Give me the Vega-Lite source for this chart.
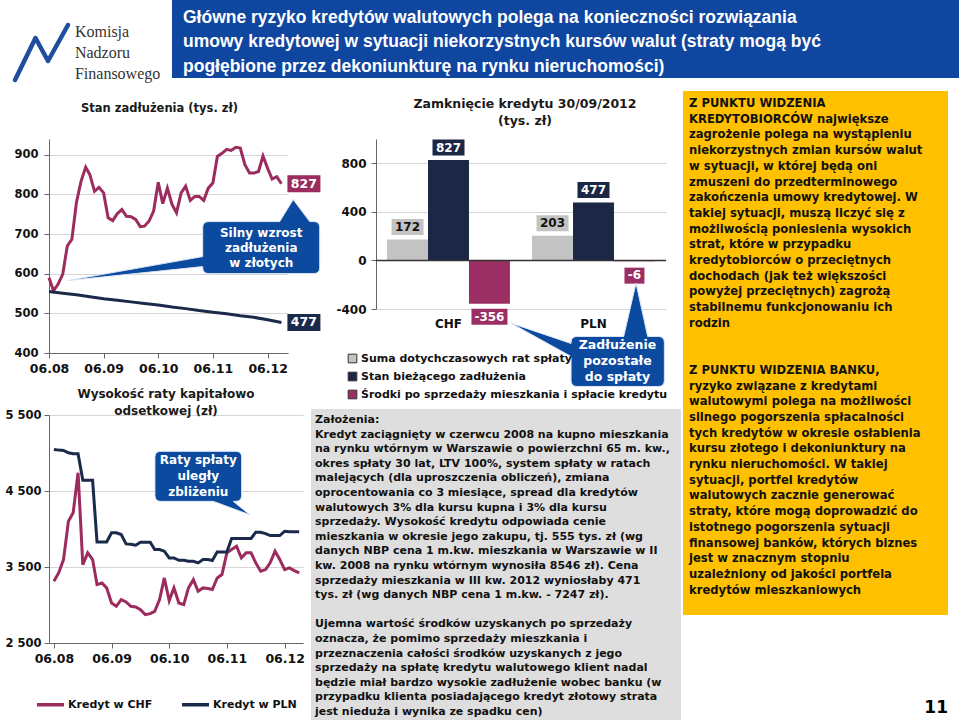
{
  "$schema": "https://vega.github.io/schema/vega-lite/v6.json",
  "padding": 0,
  "background": "white",
  "config": {
    "view": {"stroke": null},
    "font": "DejaVu Sans",
    "title": {"color": "#1a1a1a", "font": "DejaVu Sans"},
    "axis": {"labelFont": "DejaVu Sans", "labelColor": "#111", "labelFontWeight": "bold", "domainColor": "#666", "tickColor": "#666", "gridColor": "#D6D6D6"}
  },
  "datasets": {
    "debt": [
      {"date":"2008-06-01","series":"Kredyt w CHF","value":590},{"date":"2008-07-01","series":"Kredyt w CHF","value":557},{"date":"2008-08-01","series":"Kredyt w CHF","value":574},{"date":"2008-09-01","series":"Kredyt w CHF","value":599},{"date":"2008-10-01","series":"Kredyt w CHF","value":670},{"date":"2008-11-01","series":"Kredyt w CHF","value":687},{"date":"2008-12-01","series":"Kredyt w CHF","value":779},
      {"date":"2009-01-01","series":"Kredyt w CHF","value":833},{"date":"2009-02-01","series":"Kredyt w CHF","value":869},{"date":"2009-03-01","series":"Kredyt w CHF","value":850},{"date":"2009-04-01","series":"Kredyt w CHF","value":808},{"date":"2009-05-01","series":"Kredyt w CHF","value":818},{"date":"2009-06-01","series":"Kredyt w CHF","value":804},{"date":"2009-07-01","series":"Kredyt w CHF","value":741},{"date":"2009-08-01","series":"Kredyt w CHF","value":734},{"date":"2009-09-01","series":"Kredyt w CHF","value":752},{"date":"2009-10-01","series":"Kredyt w CHF","value":762},{"date":"2009-11-01","series":"Kredyt w CHF","value":745},{"date":"2009-12-01","series":"Kredyt w CHF","value":744},
      {"date":"2010-01-01","series":"Kredyt w CHF","value":737},{"date":"2010-02-01","series":"Kredyt w CHF","value":719},{"date":"2010-03-01","series":"Kredyt w CHF","value":720},{"date":"2010-04-01","series":"Kredyt w CHF","value":733},{"date":"2010-05-01","series":"Kredyt w CHF","value":758},{"date":"2010-06-01","series":"Kredyt w CHF","value":831},{"date":"2010-07-01","series":"Kredyt w CHF","value":777},{"date":"2010-08-01","series":"Kredyt w CHF","value":816},{"date":"2010-09-01","series":"Kredyt w CHF","value":775},{"date":"2010-10-01","series":"Kredyt w CHF","value":754},{"date":"2010-11-01","series":"Kredyt w CHF","value":804},{"date":"2010-12-01","series":"Kredyt w CHF","value":821},
      {"date":"2011-01-01","series":"Kredyt w CHF","value":785},{"date":"2011-02-01","series":"Kredyt w CHF","value":795},{"date":"2011-03-01","series":"Kredyt w CHF","value":795},{"date":"2011-04-01","series":"Kredyt w CHF","value":785},{"date":"2011-05-01","series":"Kredyt w CHF","value":816},{"date":"2011-06-01","series":"Kredyt w CHF","value":829},{"date":"2011-07-01","series":"Kredyt w CHF","value":896},{"date":"2011-08-01","series":"Kredyt w CHF","value":904},{"date":"2011-09-01","series":"Kredyt w CHF","value":914},{"date":"2011-10-01","series":"Kredyt w CHF","value":911},{"date":"2011-11-01","series":"Kredyt w CHF","value":919},{"date":"2011-12-01","series":"Kredyt w CHF","value":917},
      {"date":"2012-01-01","series":"Kredyt w CHF","value":875},{"date":"2012-02-01","series":"Kredyt w CHF","value":854},{"date":"2012-03-01","series":"Kredyt w CHF","value":854},{"date":"2012-04-01","series":"Kredyt w CHF","value":858},{"date":"2012-05-01","series":"Kredyt w CHF","value":897},{"date":"2012-06-01","series":"Kredyt w CHF","value":866},{"date":"2012-07-01","series":"Kredyt w CHF","value":839},{"date":"2012-08-01","series":"Kredyt w CHF","value":845},{"date":"2012-09-01","series":"Kredyt w CHF","value":827},
      {"date":"2008-06-01","series":"Kredyt w PLN","value":555},{"date":"2008-09-01","series":"Kredyt w PLN","value":551},{"date":"2008-12-01","series":"Kredyt w PLN","value":547},{"date":"2009-03-01","series":"Kredyt w PLN","value":542},{"date":"2009-06-01","series":"Kredyt w PLN","value":537},{"date":"2009-09-01","series":"Kredyt w PLN","value":533},{"date":"2009-12-01","series":"Kredyt w PLN","value":529},{"date":"2010-03-01","series":"Kredyt w PLN","value":525},{"date":"2010-06-01","series":"Kredyt w PLN","value":521},{"date":"2010-09-01","series":"Kredyt w PLN","value":516},{"date":"2010-12-01","series":"Kredyt w PLN","value":512},{"date":"2011-03-01","series":"Kredyt w PLN","value":507},{"date":"2011-06-01","series":"Kredyt w PLN","value":503},{"date":"2011-09-01","series":"Kredyt w PLN","value":499},{"date":"2011-12-01","series":"Kredyt w PLN","value":494},{"date":"2012-03-01","series":"Kredyt w PLN","value":490},{"date":"2012-06-01","series":"Kredyt w PLN","value":484},{"date":"2012-09-01","series":"Kredyt w PLN","value":477}
    ],
    "rate": [
      {"date":"2008-06-01","series":"Kredyt w CHF","value":3312},{"date":"2008-07-01","series":"Kredyt w CHF","value":3422},{"date":"2008-08-01","series":"Kredyt w CHF","value":3598},{"date":"2008-09-01","series":"Kredyt w CHF","value":4103},{"date":"2008-10-01","series":"Kredyt w CHF","value":4213},{"date":"2008-11-01","series":"Kredyt w CHF","value":4740},{"date":"2008-12-01","series":"Kredyt w CHF","value":3532},
      {"date":"2009-01-01","series":"Kredyt w CHF","value":3686},{"date":"2009-02-01","series":"Kredyt w CHF","value":3598},{"date":"2009-03-01","series":"Kredyt w CHF","value":3269},{"date":"2009-04-01","series":"Kredyt w CHF","value":3290},{"date":"2009-05-01","series":"Kredyt w CHF","value":3225},{"date":"2009-06-01","series":"Kredyt w CHF","value":3027},{"date":"2009-07-01","series":"Kredyt w CHF","value":2983},{"date":"2009-08-01","series":"Kredyt w CHF","value":3071},{"date":"2009-09-01","series":"Kredyt w CHF","value":3040},{"date":"2009-10-01","series":"Kredyt w CHF","value":2983},{"date":"2009-11-01","series":"Kredyt w CHF","value":2974},{"date":"2009-12-01","series":"Kredyt w CHF","value":2939},
      {"date":"2010-01-01","series":"Kredyt w CHF","value":2873},{"date":"2010-02-01","series":"Kredyt w CHF","value":2886},{"date":"2010-03-01","series":"Kredyt w CHF","value":2917},{"date":"2010-04-01","series":"Kredyt w CHF","value":3071},{"date":"2010-05-01","series":"Kredyt w CHF","value":3356},{"date":"2010-06-01","series":"Kredyt w CHF","value":3058},{"date":"2010-07-01","series":"Kredyt w CHF","value":3225},{"date":"2010-08-01","series":"Kredyt w CHF","value":3027},{"date":"2010-09-01","series":"Kredyt w CHF","value":3005},{"date":"2010-10-01","series":"Kredyt w CHF","value":3225},{"date":"2010-11-01","series":"Kredyt w CHF","value":3334},{"date":"2010-12-01","series":"Kredyt w CHF","value":3181},
      {"date":"2011-01-01","series":"Kredyt w CHF","value":3225},{"date":"2011-02-01","series":"Kredyt w CHF","value":3216},{"date":"2011-03-01","series":"Kredyt w CHF","value":3203},{"date":"2011-04-01","series":"Kredyt w CHF","value":3356},{"date":"2011-05-01","series":"Kredyt w CHF","value":3400},{"date":"2011-06-01","series":"Kredyt w CHF","value":3686},{"date":"2011-07-01","series":"Kredyt w CHF","value":3730},{"date":"2011-08-01","series":"Kredyt w CHF","value":3774},{"date":"2011-09-01","series":"Kredyt w CHF","value":3620},{"date":"2011-10-01","series":"Kredyt w CHF","value":3686},{"date":"2011-11-01","series":"Kredyt w CHF","value":3686},{"date":"2011-12-01","series":"Kredyt w CHF","value":3554},
      {"date":"2012-01-01","series":"Kredyt w CHF","value":3444},{"date":"2012-02-01","series":"Kredyt w CHF","value":3466},{"date":"2012-03-01","series":"Kredyt w CHF","value":3554},{"date":"2012-04-01","series":"Kredyt w CHF","value":3708},{"date":"2012-05-01","series":"Kredyt w CHF","value":3598},{"date":"2012-06-01","series":"Kredyt w CHF","value":3466},{"date":"2012-07-01","series":"Kredyt w CHF","value":3488},{"date":"2012-08-01","series":"Kredyt w CHF","value":3453},{"date":"2012-09-01","series":"Kredyt w CHF","value":3422},
      {"date":"2008-06-01","series":"Kredyt w PLN","value":5047},{"date":"2008-07-01","series":"Kredyt w PLN","value":5038},{"date":"2008-08-01","series":"Kredyt w PLN","value":5034},{"date":"2008-09-01","series":"Kredyt w PLN","value":5003},{"date":"2008-10-01","series":"Kredyt w PLN","value":4990},{"date":"2008-11-01","series":"Kredyt w PLN","value":4990},{"date":"2008-12-01","series":"Kredyt w PLN","value":4640},
      {"date":"2009-01-01","series":"Kredyt w PLN","value":4640},{"date":"2009-02-01","series":"Kredyt w PLN","value":4640},{"date":"2009-03-01","series":"Kredyt w PLN","value":3830},{"date":"2009-04-01","series":"Kredyt w PLN","value":3830},{"date":"2009-05-01","series":"Kredyt w PLN","value":3830},{"date":"2009-06-01","series":"Kredyt w PLN","value":3950},{"date":"2009-07-01","series":"Kredyt w PLN","value":3950},{"date":"2009-08-01","series":"Kredyt w PLN","value":3927},{"date":"2009-09-01","series":"Kredyt w PLN","value":3804},{"date":"2009-10-01","series":"Kredyt w PLN","value":3800},{"date":"2009-11-01","series":"Kredyt w PLN","value":3787},{"date":"2009-12-01","series":"Kredyt w PLN","value":3826},
      {"date":"2010-01-01","series":"Kredyt w PLN","value":3826},{"date":"2010-02-01","series":"Kredyt w PLN","value":3826},{"date":"2010-03-01","series":"Kredyt w PLN","value":3730},{"date":"2010-04-01","series":"Kredyt w PLN","value":3730},{"date":"2010-05-01","series":"Kredyt w PLN","value":3708},{"date":"2010-06-01","series":"Kredyt w PLN","value":3620},{"date":"2010-07-01","series":"Kredyt w PLN","value":3620},{"date":"2010-08-01","series":"Kredyt w PLN","value":3589},{"date":"2010-09-01","series":"Kredyt w PLN","value":3589},{"date":"2010-10-01","series":"Kredyt w PLN","value":3576},{"date":"2010-11-01","series":"Kredyt w PLN","value":3576},{"date":"2010-12-01","series":"Kredyt w PLN","value":3554},
      {"date":"2011-01-01","series":"Kredyt w PLN","value":3598},{"date":"2011-02-01","series":"Kredyt w PLN","value":3598},{"date":"2011-03-01","series":"Kredyt w PLN","value":3585},{"date":"2011-04-01","series":"Kredyt w PLN","value":3699},{"date":"2011-05-01","series":"Kredyt w PLN","value":3699},{"date":"2011-06-01","series":"Kredyt w PLN","value":3699},{"date":"2011-07-01","series":"Kredyt w PLN","value":3875},{"date":"2011-08-01","series":"Kredyt w PLN","value":3875},{"date":"2011-09-01","series":"Kredyt w PLN","value":3875},{"date":"2011-10-01","series":"Kredyt w PLN","value":3875},{"date":"2011-11-01","series":"Kredyt w PLN","value":3875},{"date":"2011-12-01","series":"Kredyt w PLN","value":3958},
      {"date":"2012-01-01","series":"Kredyt w PLN","value":3958},{"date":"2012-02-01","series":"Kredyt w PLN","value":3940},{"date":"2012-03-01","series":"Kredyt w PLN","value":3914},{"date":"2012-04-01","series":"Kredyt w PLN","value":3914},{"date":"2012-05-01","series":"Kredyt w PLN","value":3914},{"date":"2012-06-01","series":"Kredyt w PLN","value":3971},{"date":"2012-07-01","series":"Kredyt w PLN","value":3965},{"date":"2012-08-01","series":"Kredyt w PLN","value":3965},{"date":"2012-09-01","series":"Kredyt w PLN","value":3965}
    ]
  },
  "spacing": 8,
  "resolve": {"scale": {"color": "independent"}, "legend": {"color": "independent"}},
  "vconcat": [
    {
      "spacing": 0,
      "hconcat": [
        {
          "width": 123, "height": 78,
          "layer": [
            {
              "data": {"values": [{"name": "KNF"}]},
              "mark": {"type": "point", "shape": "M-1.91,0.82L-1.5,-0.02L-1.25,0.44L-0.85,-0.28", "size": 10000, "filled": false, "stroke": "#1F4E9E", "strokeWidth": 4.5, "opacity": 1, "strokeCap": "round", "strokeJoin": "round"},
              "encoding": {}
            },
            {
              "data": {"values": [{"line": 0, "text": "Komisja"}, {"line": 1, "text": "Nadzoru"}, {"line": 2, "text": "Finansowego"}]},
              "mark": {"type": "text", "align": "left", "baseline": "middle", "font": "Liberation Serif", "fontSize": 16, "color": "#333333"},
              "encoding": {
                "x": {"datum": 0.211, "type": "quantitative", "scale": {"domain": [0, 1], "nice": false, "zero": false}, "axis": null},
                "y": {"field": "line", "type": "quantitative", "scale": {"domain": [-1.524, 2.19], "reverse": true, "nice": false, "zero": false}, "axis": null},
                "text": {"field": "text"}
              }
            }
          ]
        },
        {
          "width": 787, "height": 78,
          "view": {"fill": "#0F46A0", "stroke": null},
          "data": {"values": [
            {"line": 0, "text": "Główne ryzyko kredytów walutowych polega na konieczności rozwiązania"},
            {"line": 1, "text": "umowy kredytowej w sytuacji niekorzystnych kursów walut (straty mogą być"},
            {"line": 2, "text": "pogłębione przez dekoniunkturę na rynku nieruchomości)"}
          ]},
          "mark": {"type": "text", "align": "left", "baseline": "middle", "font": "Liberation Sans", "fontWeight": "bold", "fontSize": 17.5, "color": "white", "dx": 11},
          "encoding": {
            "x": {"datum": 0, "type": "quantitative", "scale": {"domain": [0, 1], "nice": false, "zero": false}, "axis": null},
            "y": {"field": "line", "type": "quantitative", "scale": {"domain": [-0.735, 2.45], "reverse": true, "nice": false, "zero": false}, "axis": null},
            "text": {"field": "text"}
          }
        }
      ]
    },
    {
      "spacing": 2,
      "resolve": {"scale": {"color": "independent"}, "legend": {"color": "independent"}},
      "hconcat": [
        {
          "spacing": -11,
          "resolve": {"scale": {"color": "independent"}, "legend": {"color": "independent"}},
          "hconcat": [
            {
              "spacing": 13,
              "resolve": {"scale": {"color": "independent"}, "legend": {"color": "independent"}},
              "vconcat": [
                {
                  "width": 239, "height": 214,
                  "title": {"text": " ", "fontSize": 7, "subtitle": "Stan zadłużenia  (tys. zł)", "subtitleFontSize": 11.5, "subtitleFontWeight": "bold", "subtitleColor": "#1a1a1a", "subtitlePadding": 0, "offset": 25, "dx": -9, "anchor": "middle"},
                  "layer": [
                    {
                      "data": {"name": "debt"},
                      "mark": {"type": "line", "strokeWidth": 3},
                      "encoding": {
                        "x": {"field": "date", "type": "temporal",
                          "scale": {"type": "utc", "domain": [{"year": 2008, "month": 6, "date": 1, "utc": true}, {"year": 2012, "month": 10, "date": 15, "utc": true}], "nice": false},
                          "axis": {"values": [{"year": 2008, "month": 6, "date": 1, "utc": true}, {"year": 2009, "month": 6, "date": 1, "utc": true}, {"year": 2010, "month": 6, "date": 1, "utc": true}, {"year": 2011, "month": 6, "date": 1, "utc": true}, {"year": 2012, "month": 6, "date": 1, "utc": true}], "labelExpr": "utcFormat(datum.value, '%m.%y')", "labelFlush": false, "labelFontSize": 12.5, "tickSize": 5, "labelPadding": 4, "grid": false, "title": null}},
                        "y": {"field": "value", "type": "quantitative", "scale": {"domain": [400, 940], "nice": false, "zero": false},
                          "axis": {"values": [400, 500, 600, 700, 800, 900], "grid": true, "labelFontSize": 11.5, "tickSize": 5, "labelPadding": 6, "title": null, "minExtent": 49, "maxExtent": 49}},
                        "color": {"field": "series", "type": "nominal", "scale": {"domain": ["Kredyt w CHF", "Kredyt w PLN"], "range": ["#9C2B5E", "#1B2A4A"]}, "legend": null}
                      }
                    },
                    {
                      "data": {"values": [{"date": "2012-09-01", "series": "Kredyt w CHF", "value": 827}, {"date": "2012-09-01", "series": "Kredyt w PLN", "value": 477}]},
                      "layer": [
                        {
                          "mark": {"type": "point", "shape": "M0.12,-0.17L0.78,-0.17L0.78,0.17L0.12,0.17Z", "size": 10000, "filled": true, "opacity": 1, "strokeWidth": 0},
                          "encoding": {
                            "x": {"field": "date", "type": "temporal"},
                            "y": {"field": "value", "type": "quantitative"},
                            "color": {"field": "series", "type": "nominal", "legend": null}
                          }
                        },
                        {
                          "mark": {"type": "text", "dx": 22.5, "fontSize": 12.5, "fontWeight": "bold", "color": "white", "baseline": "middle"},
                          "encoding": {
                            "x": {"field": "date", "type": "temporal"},
                            "y": {"field": "value", "type": "quantitative"},
                            "text": {"field": "value", "type": "nominal"}
                          }
                        }
                      ]
                    },
                    {
                      "data": {"values": [{"date": "2012-04-19", "value": 666, "text": "Silny wzrost\nzadłużenia\nw złotych"}]},
                      "layer": [
                        {
                          "mark": {"type": "point", "shape": "M-1.05,-0.52L0.37,-0.52L0.64,-0.96L0.97,-0.52L1.05,-0.52Q1.17,-0.52 1.17,-0.4L1.17,0.4Q1.17,0.52 1.05,0.52L-1.05,0.52Q-1.17,0.52 -1.17,0.4L-1.17,0.38L-3.87,0.66L-1.17,0.18L-1.17,-0.4Q-1.17,-0.52 -1.05,-0.52Z", "size": 10000, "filled": true, "fill": "#0B4A9E", "stroke": "#DCE6F5", "strokeWidth": 1, "opacity": 1},
                          "encoding": {
                            "x": {"field": "date", "type": "temporal"},
                            "y": {"field": "value", "type": "quantitative"}
                          }
                        },
                        {
                          "mark": {"type": "text", "lineBreak": "\n", "lineHeight": 15, "dy": -15, "fontSize": 12, "fontWeight": "bold", "color": "white", "baseline": "middle", "align": "center"},
                          "encoding": {
                            "x": {"field": "date", "type": "temporal"},
                            "y": {"field": "value", "type": "quantitative"},
                            "text": {"field": "text"}
                          }
                        }
                      ]
                    }
                  ]
                },
                {
                  "width": 254, "height": 228,
                  "title": {"text": ["Wysokość  raty kapitałowo", "odsetkowej  (zł)"], "fontSize": 12, "fontWeight": "bold", "lineHeight": 17, "offset": -9, "dx": -10, "anchor": "middle"},
                  "layer": [
                    {
                      "data": {"name": "rate"},
                      "mark": {"type": "line", "strokeWidth": 3},
                      "encoding": {
                        "x": {"field": "date", "type": "temporal",
                          "scale": {"type": "utc", "domain": [{"year": 2008, "month": 5, "date": 1, "utc": true}, {"year": 2012, "month": 9, "date": 25, "utc": true}], "nice": false},
                          "axis": {"values": [{"year": 2008, "month": 6, "date": 1, "utc": true}, {"year": 2009, "month": 6, "date": 1, "utc": true}, {"year": 2010, "month": 6, "date": 1, "utc": true}, {"year": 2011, "month": 6, "date": 1, "utc": true}, {"year": 2012, "month": 6, "date": 1, "utc": true}], "labelExpr": "utcFormat(datum.value, '%m.%y')", "labelFlush": false, "labelFontSize": 12.5, "tickSize": 5, "labelPadding": 4, "grid": false, "title": null}},
                        "y": {"field": "value", "type": "quantitative", "scale": {"domain": [2500, 5500], "nice": false, "zero": false},
                          "axis": {"values": [2500, 3500, 4500, 5500], "labelExpr": "replace(format(datum.value, ','), ',', ' ')", "grid": true, "labelFontSize": 11.5, "tickSize": 5, "labelPadding": 3, "title": null, "minExtent": 49, "maxExtent": 49}},
                        "color": {"field": "series", "type": "nominal", "scale": {"domain": ["Kredyt w CHF", "Kredyt w PLN"], "range": ["#9C2B5E", "#1B2A4A"]},
                          "legend": {"orient": "none", "legendX": -14, "legendY": 274, "direction": "horizontal", "title": null, "symbolType": "stroke", "symbolSize": 729, "symbolStrokeWidth": 3.5, "labelFontSize": 11, "labelFontWeight": "bold", "labelColor": "#111", "labelOffset": 2, "columnPadding": 22}}
                      }
                    },
                    {
                      "data": {"values": [{"date": "2010-12-02", "value": 4693, "text": "Raty spłaty\nuległy\nzbliżeniu"}]},
                      "layer": [
                        {
                          "mark": {"type": "point", "shape": "M-0.75,-0.5L0.75,-0.5Q0.867,-0.5 0.867,-0.38L0.867,0.38Q0.867,0.5 0.75,0.5L0.7,0.5L1.03,0.77L0.3,0.5L-0.75,0.5Q-0.867,0.5 -0.867,0.38L-0.867,-0.38Q-0.867,-0.5 -0.75,-0.5Z", "size": 10000, "filled": true, "fill": "#0B4A9E", "stroke": "#DCE6F5", "strokeWidth": 1, "opacity": 1},
                          "encoding": {
                            "x": {"field": "date", "type": "temporal"},
                            "y": {"field": "value", "type": "quantitative"}
                          }
                        },
                        {
                          "mark": {"type": "text", "lineBreak": "\n", "lineHeight": 16, "dy": -16, "fontSize": 12, "fontWeight": "bold", "color": "white", "baseline": "middle", "align": "center"},
                          "encoding": {
                            "x": {"field": "date", "type": "temporal"},
                            "y": {"field": "value", "type": "quantitative"},
                            "text": {"field": "text"}
                          }
                        }
                      ]
                    }
                  ]
                }
              ]
            },
            {
              "spacing": 8,
              "resolve": {"scale": {"color": "independent"}, "legend": {"color": "independent"}},
              "vconcat": [
                {
                  "width": 290, "height": 170,
                  "title": {"text": " ", "fontSize": 6, "subtitle": ["Zamknięcie  kredytu 30/09/2012", "(tys. zł)"], "subtitleFontSize": 12.5, "subtitleFontWeight": "bold", "subtitleColor": "#1a1a1a", "subtitleLineHeight": 16.5, "subtitlePadding": 0, "offset": 12, "dx": 4, "anchor": "middle"},
                  "data": {"values": [
                    {"cur": "CHF", "series": "Suma dotychczasowych rat spłaty", "value": 172},
                    {"cur": "CHF", "series": "Stan bieżącego zadłużenia", "value": 827},
                    {"cur": "CHF", "series": "Środki po sprzedaży mieszkania i spłacie kredytu", "value": -356},
                    {"cur": "PLN", "series": "Suma dotychczasowych rat spłaty", "value": 203},
                    {"cur": "PLN", "series": "Stan bieżącego zadłużenia", "value": 477},
                    {"cur": "PLN", "series": "Środki po sprzedaży mieszkania i spłacie kredytu", "value": -6}
                  ]},
                  "layer": [
                    {
                      "mark": {"type": "bar"},
                      "encoding": {
                        "x": {"field": "cur", "type": "nominal", "scale": {"domain": ["CHF", "PLN"], "paddingInner": 0, "paddingOuter": 0},
                          "axis": {"title": null, "domain": false, "ticks": false, "labelAngle": 0, "labelFontSize": 12, "labelPadding": 9}},
                        "xOffset": {"field": "series", "type": "nominal", "scale": {"domain": ["Suma dotychczasowych rat spłaty", "Stan bieżącego zadłużenia", "Środki po sprzedaży mieszkania i spłacie kredytu"], "paddingInner": 0, "paddingOuter": 0.27}},
                        "y": {"field": "value", "type": "quantitative", "scale": {"domain": [-400, 1000], "nice": false, "zero": false},
                          "axis": {"values": [-400, 0, 400, 800], "labelExpr": "replace(datum.label, '−', '-')", "grid": true, "title": null, "labelFontSize": 12, "tickSize": 5, "labelPadding": 5, "minExtent": 53, "maxExtent": 53}},
                        "color": {"field": "series", "type": "nominal",
                          "scale": {"domain": ["Suma dotychczasowych rat spłaty", "Stan bieżącego zadłużenia", "Środki po sprzedaży mieszkania i spłacie kredytu"], "range": ["#C3C3C3", "#1B2745", "#9B2F64"]},
                          "legend": {"orient": "none", "legendX": -29, "legendY": 214, "direction": "vertical", "title": null, "symbolType": "square", "symbolSize": 75, "symbolStrokeColor": "#333", "symbolStrokeWidth": 1, "labelFontSize": 11, "labelFontWeight": "bold", "labelColor": "#111", "labelLimit": 400, "rowPadding": 5, "labelOffset": 3}}
                      }
                    },
                    {
                      "data": {"values": [{"level": 0}]},
                      "mark": {"type": "rule", "color": "#333", "strokeWidth": 1.5},
                      "encoding": {"y": {"field": "level", "type": "quantitative"}}
                    },
                    {
                      "mark": {"type": "point", "size": 10000, "filled": true, "opacity": 1, "strokeWidth": 0},
                      "encoding": {
                        "x": {"field": "cur", "type": "nominal"},
                        "xOffset": {"field": "series", "type": "nominal"},
                        "y": {"field": "value", "type": "quantitative"},
                        "color": {"field": "series", "type": "nominal"},
                        "shape": {"condition": [{"test": "datum.value < -100", "value": "M-0.36,0.1L0.36,0.1L0.36,0.42L-0.36,0.42Z"}, {"test": "datum.value < 0", "value": "M-0.2,0.13L0.2,0.13L0.2,0.45L-0.2,0.45Z"}], "value": "M-0.32,-0.41L0.32,-0.41L0.32,-0.09L-0.32,-0.09Z"}
                      }
                    },
                    {
                      "transform": [{"filter": "datum.value >= 0"}],
                      "mark": {"type": "text", "dy": -12.5, "fontSize": 12, "fontWeight": "bold", "baseline": "middle"},
                      "encoding": {
                        "x": {"field": "cur", "type": "nominal"},
                        "xOffset": {"field": "series", "type": "nominal"},
                        "y": {"field": "value", "type": "quantitative"},
                        "text": {"field": "value", "type": "nominal"},
                        "color": {"condition": {"test": "datum.series === 'Suma dotychczasowych rat spłaty'", "value": "#111111"}, "value": "white"}
                      }
                    },
                    {
                      "transform": [{"filter": "datum.value < 0"}],
                      "mark": {"type": "text", "dy": 13.8, "fontSize": 12, "fontWeight": "bold", "baseline": "middle", "color": "white"},
                      "encoding": {
                        "x": {"field": "cur", "type": "nominal"},
                        "xOffset": {"field": "series", "type": "nominal"},
                        "y": {"field": "value", "type": "quantitative"},
                        "text": {"field": "value", "type": "nominal"}
                      }
                    },
                    {
                      "data": {"values": [{"cur": "PLN", "value": -832, "text": "Zadłużenie\npozostałe\ndo spłaty"}]},
                      "layer": [
                        {
                          "mark": {"type": "point", "shape": "M-0.326,-0.5L0.604,-0.5L0.85,-1.566L1.084,-0.5L1.294,-0.5Q1.417,-0.5 1.417,-0.38L1.417,0.38Q1.417,0.5 1.294,0.5L-0.326,0.5Q-0.449,0.5 -0.449,0.38L-0.449,-0.1L-1.65,-0.766L-0.449,-0.36L-0.449,-0.38Q-0.449,-0.5 -0.326,-0.5Z", "size": 10000, "filled": true, "fill": "#0B4A9E", "stroke": "#DCE6F5", "strokeWidth": 1, "opacity": 1},
                          "encoding": {
                            "x": {"field": "cur", "type": "nominal"},
                            "y": {"field": "value", "type": "quantitative"}
                          }
                        },
                        {
                          "mark": {"type": "text", "dx": 24, "dy": -16, "lineBreak": "\n", "lineHeight": 16, "fontSize": 12.5, "fontWeight": "bold", "color": "white", "baseline": "middle", "align": "center"},
                          "encoding": {
                            "x": {"field": "cur", "type": "nominal"},
                            "y": {"field": "value", "type": "quantitative"},
                            "text": {"field": "text"}
                          }
                        }
                      ]
                    }
                  ]
                },
                {
                  "width": 305, "height": 314,
                  "layer": [
                    {
                      "data": {"values": [{"box": "Założenia"}]},
                      "mark": {"type": "rect", "color": "#DEDEDE"},
                      "encoding": {
                        "x": {"datum": -0.2131, "type": "quantitative", "scale": {"domain": [0, 1], "nice": false, "zero": false}, "axis": null},
                        "x2": {"datum": 1},
                        "y": {"datum": -0.753, "type": "quantitative", "scale": {"domain": [-0.753, 20.753], "reverse": true, "nice": false, "zero": false}, "axis": null},
                        "y2": {"datum": 20.753}
                      }
                    },
                    {
                      "data": {"values": [
                        {"line": 0, "text": "Założenia:"},
                        {"line": 1, "text": "Kredyt zaciągnięty  w czerwcu 2008 na kupno mieszkania"},
                        {"line": 2, "text": "na rynku wtórnym w Warszawie o powierzchni 65 m. kw.,"},
                        {"line": 3, "text": "okres spłaty 30 lat, LTV 100%, system spłaty w ratach"},
                        {"line": 4, "text": "malejących (dla uproszczenia obliczeń), zmiana"},
                        {"line": 5, "text": "oprocentowania co 3 miesiące, spread dla kredytów"},
                        {"line": 6, "text": "walutowych 3% dla kursu kupna i 3% dla kursu"},
                        {"line": 7, "text": "sprzedaży. Wysokość kredytu odpowiada cenie"},
                        {"line": 8, "text": "mieszkania w okresie jego zakupu, tj. 555 tys. zł (wg"},
                        {"line": 9, "text": "danych NBP cena 1 m.kw. mieszkania w Warszawie w II"},
                        {"line": 10, "text": "kw. 2008 na rynku wtórnym wynosiła 8546 zł). Cena"},
                        {"line": 11, "text": "sprzedaży mieszkania w III kw. 2012 wyniosłaby 471"},
                        {"line": 12, "text": "tys. zł (wg danych NBP cena 1 m.kw. - 7247 zł)."},
                        {"line": 14, "text": "Ujemna wartość środków uzyskanych po sprzedaży"},
                        {"line": 15, "text": "oznacza, że pomimo sprzedaży mieszkania i"},
                        {"line": 16, "text": "przeznaczenia całości środków uzyskanych z jego"},
                        {"line": 17, "text": "sprzedaży na spłatę kredytu walutowego klient nadal"},
                        {"line": 18, "text": "będzie miał bardzo wysokie zadłużenie wobec banku (w"},
                        {"line": 19, "text": "przypadku klienta posiadającego kredyt złotowy strata"},
                        {"line": 20, "text": "jest nieduża i wynika ze spadku cen)"}
                      ]},
                      "mark": {"type": "text", "align": "left", "baseline": "middle", "fontSize": 11, "fontWeight": "bold", "color": "#111111", "dx": 4},
                      "encoding": {
                        "x": {"datum": -0.2131, "type": "quantitative"},
                        "y": {"field": "line", "type": "quantitative"},
                        "text": {"field": "text"}
                      }
                    }
                  ]
                }
              ]
            }
          ]
        },
        {
          "width": 265, "height": 476,
          "layer": [
            {
              "data": {"values": [{"box": "Kredytobiorcy i bank"}]},
              "mark": {"type": "rect", "color": "#FFC000"},
              "encoding": {
                "x": {"datum": 0, "type": "quantitative", "scale": {"domain": [0, 1], "nice": false, "zero": false}, "axis": null},
                "x2": {"datum": 1},
                "y": {"datum": -0.828, "type": "quantitative", "scale": {"domain": [2.229, 32.548], "reverse": true, "nice": false, "zero": false}, "axis": null},
                "y2": {"datum": 32.548}
              }
            },
            {
              "data": {"values": [
                {"line": 0, "text": "Z PUNKTU WIDZENIA"},
                {"line": 1, "text": "KREDYTOBIORCÓW największe"},
                {"line": 2, "text": "zagrożenie polega na wystąpieniu"},
                {"line": 3, "text": "niekorzystnych zmian kursów walut"},
                {"line": 4, "text": "w sytuacji, w której będą oni"},
                {"line": 5, "text": "zmuszeni do przedterminowego"},
                {"line": 6, "text": "zakończenia umowy kredytowej. W"},
                {"line": 7, "text": "takiej sytuacji, muszą liczyć się z"},
                {"line": 8, "text": "możliwością poniesienia wysokich"},
                {"line": 9, "text": "strat, które w przypadku"},
                {"line": 10, "text": "kredytobiorców o przeciętnych"},
                {"line": 11, "text": "dochodach (jak też większości"},
                {"line": 12, "text": "powyżej przeciętnych) zagrożą"},
                {"line": 13, "text": "stabilnemu funkcjonowaniu ich"},
                {"line": 14, "text": "rodzin"},
                {"line": 17, "text": "Z PUNKTU WIDZENIA BANKU,"},
                {"line": 18, "text": "ryzyko związane z kredytami"},
                {"line": 19, "text": "walutowymi polega na możliwości"},
                {"line": 20, "text": "silnego pogorszenia spłacalności"},
                {"line": 21, "text": "tych kredytów w okresie osłabienia"},
                {"line": 22, "text": "kursu złotego i dekoniunktury na"},
                {"line": 23, "text": "rynku nieruchomości. W takiej"},
                {"line": 24, "text": "sytuacji, portfel kredytów"},
                {"line": 25, "text": "walutowych zacznie generować"},
                {"line": 26, "text": "straty, które mogą doprowadzić do"},
                {"line": 27, "text": "istotnego pogorszenia sytuacji"},
                {"line": 28, "text": "finansowej banków, których biznes"},
                {"line": 29, "text": "jest w znacznym stopniu"},
                {"line": 30, "text": "uzależniony od jakości portfela"},
                {"line": 31, "text": "kredytów mieszkaniowych"}
              ]},
              "mark": {"type": "text", "align": "left", "baseline": "middle", "fontSize": 11.6, "fontWeight": "bold", "color": "#111111", "dx": 6},
              "encoding": {
                "x": {"datum": 0, "type": "quantitative"},
                "y": {"field": "line", "type": "quantitative"},
                "text": {"field": "text"}
              }
            },
            {
              "data": {"values": [{"line": 38.5, "text": "11"}]},
              "mark": {"type": "text", "align": "right", "baseline": "middle", "fontSize": 17, "fontWeight": "bold", "color": "#000000"},
              "encoding": {
                "x": {"datum": 1, "type": "quantitative"},
                "y": {"field": "line", "type": "quantitative"},
                "text": {"field": "text"}
              }
            }
          ]
        }
      ]
    }
  ]
}
